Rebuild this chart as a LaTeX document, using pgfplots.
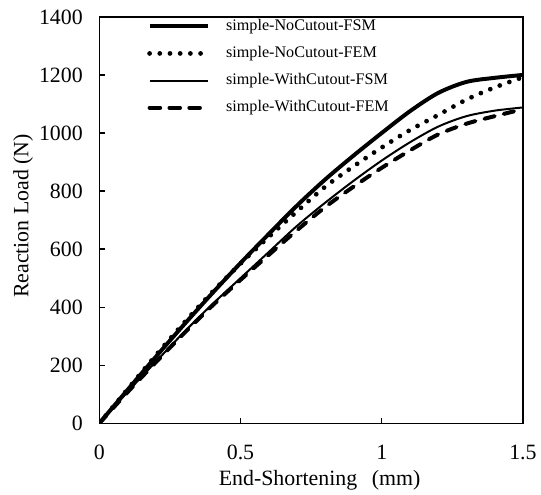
\documentclass[border=0pt]{standalone}
\usepackage{fontspec}
\setmainfont{Liberation Serif}
\usepackage{pgfplots}
\pgfplotsset{compat=1.18}

\begin{document}
\begin{tikzpicture}
\begin{axis}[
    scale only axis, width=320pt, height=307pt,
    xmin=0, xmax=1.5, ymin=0, ymax=1400,
    xtick={0,0.5,1,1.5}, ytick={0,200,...,1400},
    tick align=inside, xtick pos=bottom, ytick pos=left,
    major tick length=4pt,
    axis line style={line width=1pt},
    every tick/.style={black, line width=1pt},
    /pgf/number format/assume math mode=true,
    /pgf/number format/1000 sep={},
    tick label style={font=\fontsize{16.5}{19}\selectfont},
    xticklabel style={yshift=-13pt},
    yticklabel style={xshift=-9pt},
    xlabel={End-Shortening\hspace{11pt}(mm)}, ylabel={Reaction Load (N)},
    label style={font=\fontsize{16.5}{19}\selectfont},
    xlabel style={at={(axis description cs:0.52,-0.14)}, anchor=center},
    ylabel style={at={(axis description cs:-0.18,0.51)}, anchor=center},
    legend cell align=left,
    legend image code/.code={\draw[#1] (0pt,0pt) -- (44pt,0pt);},
    legend style={at={(axis description cs:0.1125,0.997)}, anchor=north west,
        draw=none, fill=none, inner sep=0pt, row sep=8.5pt,
        font=\fontsize{12.2}{14}\selectfont,
        nodes={inner sep=0pt, text height=9pt, text depth=3pt},
        /tikz/every odd column/.append style={column sep=12pt}},
]
\addplot[black, line width=3pt, smooth] coordinates {
(0,0)(0.1,115)(0.2,229)(0.3,340)(0.4,448)(0.5,552)(0.6,652)(0.7,750)(0.8,840)
(0.9,922)(1.0,1000)(1.1,1075)(1.2,1138)(1.3,1176)(1.4,1190)(1.5,1200)
};
\addlegendentry{simple-NoCutout-FSM}
\addplot[black, line width=3.6pt, line cap=round, dash pattern=on 0pt off 7.7pt, smooth] coordinates {
(0,0)(0.1,117)(0.2,234)(0.3,346)(0.4,452)(0.5,550)(0.6,642)(0.7,730)(0.8,815)
(0.9,885)(1.0,950)(1.1,1010)(1.2,1062)(1.3,1115)(1.4,1157)(1.5,1192)
};
\addlegendentry{simple-NoCutout-FEM}
\addplot[black, line width=1.5pt, smooth] coordinates {
(0,0)(0.1,108)(0.2,212)(0.3,314)(0.4,410)(0.5,500)(0.6,590)(0.7,680)(0.8,760)
(0.9,835)(1.0,905)(1.1,968)(1.2,1022)(1.3,1058)(1.4,1077)(1.5,1088)
};
\addlegendentry{simple-WithCutout-FSM}
\addplot[black, line width=3pt, line cap=round, dash pattern=on 8pt off 7pt, smooth] coordinates {
(0,0)(0.1,107)(0.2,210)(0.3,310)(0.4,405)(0.5,494)(0.6,580)(0.7,665)(0.8,745)
(0.9,815)(1.0,880)(1.1,940)(1.2,995)(1.3,1032)(1.4,1058)(1.5,1082)
};
\addlegendentry{simple-WithCutout-FEM}
\end{axis}
\path (current axis.south west) ++(-75pt,-48.4pt) coordinate (bl);
\path (current axis.north east) ++(10.5pt,12.75pt) coordinate (tr);
\path (bl) rectangle (tr);
\end{tikzpicture}
\end{document}
